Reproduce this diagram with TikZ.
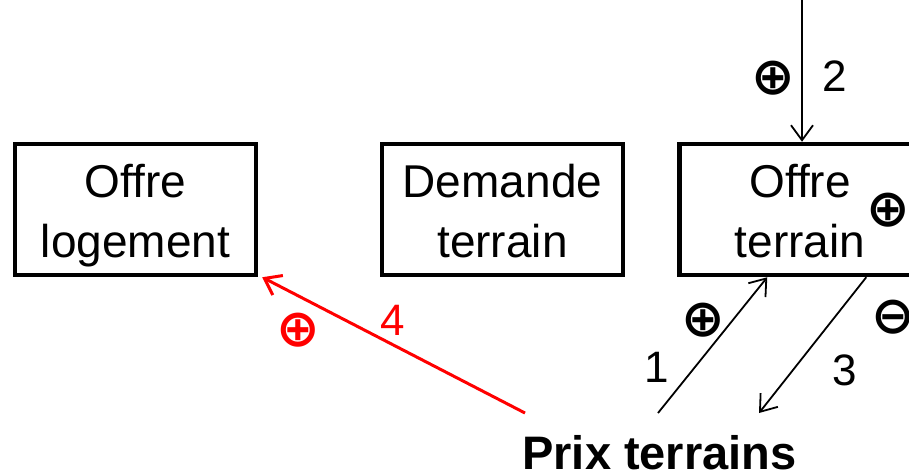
\documentclass[tikz,border=0pt]{standalone}
\usepackage{fontspec}
\setmainfont{Liberation Sans}
\newfontfamily\signfont{DejaVu Sans}
\usetikzlibrary{arrows.meta}

\begin{document}
\begin{tikzpicture}[x=1pt,y=-1pt]
\tikzstyle{box}=[draw,line width=4.5pt,minimum width=241pt,minimum height=131pt,inner sep=0pt,align=center,font=\fontsize{46}{60}\selectfont,text height=110pt,text depth=15pt]
\tikzstyle{link}=[line width=1.8pt,-{Straight Barb[length=15pt,width=22pt,line width=1.8pt]}]
\tikzstyle{sign}=[inner sep=0pt,font=\signfont\bfseries\fontsize{52}{52}\selectfont]
\tikzstyle{num}=[inner sep=0pt,font=\fontsize{44}{44}\selectfont]

\useasboundingbox (0,0) rectangle (909,475);

%boxes
\node[box] (ol) at (135.5,209.5) {Offre\\logement};
\node[box] (dt) at (502.5,209.5) {Demande\\terrain};
\node[box] (ot) at (800,209.5) {Offre\\terrain};
\node[anchor=base,inner sep=0pt,font=\fontsize{47}{47}\selectfont\bfseries] (pt) at (659.5,469) {Prix terrains};

%free ends of the arrows
\coordinate (top) at (802,0);
\coordinate (p1) at (658,413);
\coordinate (p3) at (759,413);
\coordinate (p4) at (525,413);

%arrows
\draw[link] (top) -- ([xshift=2pt]ot.north);
\draw[link] (p1) -- ([xshift=90pt]ot.south west);
\draw[link] ([xshift=189pt]ot.south west) -- (p3);
\draw[link,red,line width=3pt,-{Straight Barb[length=15pt,width=22pt,line width=3pt]}] (p4) -- ([xshift=4pt]ot.south east -| ol.south east);

%signs and numbers
\node[sign] (s2) at (773,78) {⊕};
\node[num] (n2) at (835,76) {2};
\node[sign] (sot) at (888,210) {⊕};
\node[sign] (s1) at (703,320) {⊕};
\node[sign] (s3) at (893,317) {⊖};
\node[num] (n1) at (657,367) {1};
\node[num] (n3) at (845,370) {3};
\node[num,red] (n4) at (393,320) {4};
\node[sign,red] (s4) at (298,330) {⊕};
\end{tikzpicture}
\end{document}
